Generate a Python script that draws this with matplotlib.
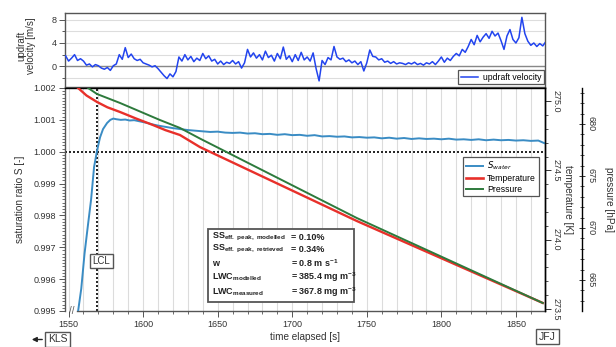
import matplotlib
matplotlib.use('Agg')
import matplotlib.pyplot as plt
from matplotlib.patches import Rectangle
from matplotlib.ticker import MultipleLocator, FormatStrFormatter
from matplotlib.lines import Line2D
import numpy as np

plt.rcParams['font.family'] = ['Liberation Sans', 'DejaVu Sans']
plt.rcParams['mathtext.default'] = 'regular'

# ---------------- data ----------------
vel_start = 1548
vel_step = 2
vel_values = [
    1.8, 0.9, 1.4, 2.0, 1.0, 1.3, 0.9, 0.2, 0.4, -0.1,
    0.3, 0.1, -0.3, -0.5, -0.2, -0.7, 0.1, 0.4, 2.0, 1.2,
    3.2, 1.5, 2.1, 1.3, 1.0, 1.2, 0.6, 0.4, 0.2, -0.1,
    0.1, -0.4, -1.0, -1.6, -2.1, -1.3, -1.8, -0.9, 1.6, 0.9,
    2.0, 1.1, 1.7, 0.8, 1.4, 1.0, 2.2, 1.3, 1.8, 0.9,
    1.2, 0.4, 0.9, 0.3, 0.7, 0.5, 1.0, 0.4, 0.8, -0.3,
    0.6, 2.9, 1.6, 2.3, 1.4, 2.0, 1.1, 2.6, 1.5, 1.9,
    0.9, 2.2, 1.3, 3.3, 1.2, 1.8, 0.8, 2.0, 1.0, 2.4,
    1.1, 1.6, 0.9, 2.3, -0.4, -2.5, 1.0, 0.3, 1.5, 1.1,
    3.4, 1.6, 1.2, 1.4, 0.8, 1.1, 0.6, 0.9, 0.3, 0.8,
    -0.8, 0.6, 2.8, 1.7, 1.6, 1.1, 1.3, 0.7, 0.9, 0.5,
    0.8, 0.4, 0.6, 0.5, 0.3, 0.6, 0.4, 0.7, 0.3, 0.5,
    0.2, 0.6, 0.4, 0.8, 0.3, 0.9, 1.6, 0.7, 1.4, 1.0,
    1.7, 2.2, 1.8, 2.9, 2.4, 3.4, 4.6, 3.7, 5.3, 4.2,
    5.0, 5.6, 4.8, 6.0, 5.2, 5.7, 4.4, 2.9, 5.2, 6.3,
    4.6, 4.0, 4.9, 8.4, 5.6, 4.3, 3.6, 4.0, 3.4, 3.9,
    3.5, 4.2,
]
vel_time = vel_start + vel_step * np.arange(len(vel_values))

s_time = [1556.4, 1558.5, 1560.7, 1563.0, 1565.1, 1567.1, 1569.1, 1571.1,
          1573.1, 1575.8, 1578, 1580, 1582, 1585, 1588, 1591, 1594, 1597,
          1600, 1603, 1606, 1610, 1615, 1620, 1625, 1630, 1635,
          1640, 1645, 1650, 1655, 1660, 1665, 1670, 1675, 1680, 1685,
          1690, 1695, 1700, 1705, 1710, 1715, 1720, 1725, 1730, 1735,
          1740, 1745, 1750, 1755, 1760, 1765, 1770, 1775, 1780, 1785,
          1790, 1795, 1800, 1805, 1810, 1815, 1820, 1825, 1830, 1835,
          1840, 1845, 1850, 1855, 1860, 1865, 1867, 1869]
s_values = [0.99500, 0.99570, 0.99680, 0.99770, 0.99850, 0.99952, 1.00004, 1.00045,
            1.00071, 1.00090, 1.00100, 1.00104, 1.00102, 1.00100, 1.00101, 1.00098, 1.00099, 1.00096,
            1.00093, 1.00090, 1.00086, 1.00082, 1.00078, 1.00074, 1.00071, 1.00068, 1.00066,
            1.00064, 1.00062, 1.00063, 1.00060, 1.00059, 1.00060, 1.00057, 1.00058, 1.00055, 1.00056,
            1.00053, 1.00055, 1.00052, 1.00053, 1.00050, 1.00052, 1.00048, 1.00049, 1.00047, 1.00048,
            1.00045, 1.00046, 1.00044, 1.00045, 1.00042, 1.00044, 1.00041, 1.00043, 1.00040, 1.00042,
            1.00040, 1.00041, 1.00039, 1.00041, 1.00038, 1.00039, 1.00037, 1.00039, 1.00036, 1.00038,
            1.00036, 1.00037, 1.00035, 1.00036, 1.00034, 1.00035, 1.00031, 1.00027]

temp_time = [1556.4, 1562, 1569.1, 1576, 1584.5, 1595, 1606.6, 1615, 1624.7, 1638.1, 1743.3, 1868]
temp_values = [275.094, 275.04, 274.993, 274.955, 274.921, 274.875, 274.827, 274.79, 274.755,
               274.668, 274.135, 273.544]

pres_time = [1563.1, 1569.1, 1584.5, 1611.3, 1624.7, 1638.1, 1743.3, 1868]
pres_values = [683.46, 682.88, 682.02, 680.38, 679.62, 678.6, 670.96, 662.79]

lcl_time = 1569

stats_names = [r'SS$_{eff.\ peak,\ modelled}$', r'SS$_{eff.\ peak,\ retrieved}$', 'w',
               r'LWC$_{modelled}$', r'LWC$_{measured}$']
stats_values = ['= 0.10%', '= 0.34%', r'= 0.8 m s$^{-1}$', r'= 385.4 mg m$^{-3}$',
                r'= 367.8 mg m$^{-3}$']

# ---------------- layout ----------------
W, H = 616, 347
fig = plt.figure(figsize=(W / 100, H / 100), dpi=100)


def fx(px):
    return px / W


def fy(py):
    return 1 - py / H


XMIN, XMAX = 1547.6, 1869.5
TXT = '#333333'
FS = 6.5

ax_top = fig.add_axes([fx(65), fy(86.5), fx(545) - fx(65), fy(13) - fy(86.5)])
ax = fig.add_axes([fx(65), fy(311), fx(545) - fx(65), fy(88) - fy(311)])

# ---- top panel ----
ax_top.plot(vel_time, vel_values, color='#2244ee', lw=1.1, label='updraft velocity', zorder=3)
ax_top.axhline(0, color='#888888', lw=1.0, zorder=2)
ax_top.set_xlim(XMIN, XMAX)
ax_top.set_ylim(-3.46, 9.14)
ax_top.yaxis.set_major_locator(MultipleLocator(4))
ax_top.yaxis.set_minor_locator(MultipleLocator(2))
ax_top.grid(axis='y', which='both', color='#dddddd', lw=0.8, zorder=0)
ax_top.set_xticks([])
ax_top.tick_params(axis='y', which='major', labelsize=FS, labelcolor=TXT, length=4, width=0.7, color='#555555', pad=2)
ax_top.tick_params(axis='y', which='minor', length=2.5, width=0.7, color='#555555')
for sp in ax_top.spines.values():
    sp.set_color('#555555')
    sp.set_linewidth(1.0)
fig.text(fx(26), fy(46), 'updraft\nvelocity [m/s]', rotation=90, ha='center', va='center',
         fontsize=7, color=TXT, multialignment='center', linespacing=1.0)
leg1 = ax_top.legend(loc='upper left', bbox_to_anchor=((458 - 65) / 480, (86.5 - 70) / 73.5),
                     borderaxespad=0, fontsize=6.2, frameon=True, fancybox=False,
                     edgecolor='#555555', framealpha=1, handlelength=2.0, borderpad=0.3,
                     handletextpad=0.6)
leg1.get_frame().set_linewidth(0.9)

# ---- main panel ----
ax.plot(s_time, s_values, color='#3a8cc4', lw=1.4, zorder=3)
ax.axhline(1.0, color='black', lw=1.2, ls=(0, (1.2, 1.2)), zorder=2)
ax.axvline(lcl_time, color='black', lw=1.2, ls=(0, (1.2, 1.2)), zorder=2)
ax.set_xlim(XMIN, XMAX)
ax.set_ylim(0.995, 1.002)
ax.xaxis.set_major_locator(MultipleLocator(50))
ax.xaxis.set_minor_locator(MultipleLocator(10))
ax.yaxis.set_major_locator(MultipleLocator(0.001))
ax.yaxis.set_minor_locator(MultipleLocator(0.0001))
ax.yaxis.set_major_formatter(FormatStrFormatter('%.3f'))
ax.grid(axis='x', which='both', color='#dcdcdc', lw=0.8, zorder=0)
ax.tick_params(axis='both', which='major', labelsize=FS, labelcolor=TXT, length=4.5, width=0.7,
               color='#555555', pad=2)
ax.tick_params(axis='both', which='minor', length=2.5, width=0.6, color='#555555')
ax.spines['bottom'].set_bounds(1555.5, XMAX)
for sp in ax.spines.values():
    sp.set_linewidth(1.0)
ax.spines['left'].set_color('#555555')
ax.spines['bottom'].set_color('#555555')
ax.set_xlabel('time elapsed [s]', fontsize=7.2, color=TXT, labelpad=2)
ax.set_ylabel('saturation ratio S [-]', fontsize=7.2, color=TXT, labelpad=6)
fig.text(fx(72), fy(311), '//', fontsize=7, ha='center', va='center', color='#555555')

# temperature axis
ax_t = ax.twinx()
ax_t.plot(temp_time, temp_values, color='#e8302a', lw=1.7, zorder=3)
ax_t.set_ylim(273.486, 275.094)
ax_t.yaxis.set_major_locator(MultipleLocator(0.5))
ax_t.yaxis.set_minor_locator(MultipleLocator(0.1))
ax_t.yaxis.set_major_formatter(FormatStrFormatter('%.1f'))
ax_t.tick_params(axis='y', which='major', labelsize=FS, labelcolor=TXT, length=4, width=0.7,
                 color='#333333', pad=1, labelrotation=-90)
ax_t.tick_params(axis='y', which='minor', length=2.5, width=0.6, color='#333333')
for lab in ax_t.get_yticklabels():
    lab.set_va('center')
for sp in ('left', 'top', 'bottom'):
    ax_t.spines[sp].set_visible(False)
ax_t.spines['right'].set_linewidth(1.0)
fig.text(fx(568), fy(199.5), 'temperature [K]', fontsize=7.2, color=TXT, rotation=-90,
         ha='center', va='center')

# pressure axis
ax_p = ax.twinx()
ax_p.plot(pres_time, pres_values, color='#2d7a3c', lw=1.4, zorder=3)
ax_p.set_ylim(662.02, 683.46)
ax_p.spines['right'].set_position(('outward', 37 * 0.72))
ax_p.yaxis.set_major_locator(MultipleLocator(5))
ax_p.yaxis.set_minor_locator(MultipleLocator(1))
ax_p.tick_params(axis='y', which='major', labelsize=FS, labelcolor=TXT, length=5, width=0.7,
                 color='#333333', pad=1, labelrotation=-90, direction='inout')
ax_p.tick_params(axis='y', which='minor', length=3, width=0.6, color='#333333', direction='inout')
for lab in ax_p.get_yticklabels():
    lab.set_va('center')
for sp in ('left', 'top', 'bottom'):
    ax_p.spines[sp].set_visible(False)
ax_p.spines['right'].set_linewidth(1.0)
fig.text(fx(609), fy(199.5), 'pressure [hPa]', fontsize=7.2, color=TXT, rotation=-90,
         ha='center', va='center')

handles = [Line2D([], [], color='#3a8cc4', lw=1.4),
           Line2D([], [], color='#e8302a', lw=1.9),
           Line2D([], [], color='#2d7a3c', lw=1.4)]
labels = [r'$\it{S}_{water}$', 'Temperature', 'Pressure']
leg2 = ax_p.legend(handles, labels, loc='upper left',
                   bbox_to_anchor=((463 - 65) / 480, (311 - 157) / 223),
                   borderaxespad=0, fontsize=6.2, frameon=True, fancybox=False,
                   edgecolor='#555555', framealpha=1, handlelength=2.0, borderpad=0.3,
                   labelspacing=0.2, handletextpad=0.5)
leg2.get_frame().set_linewidth(0.9)

# stats box
fig.patches.append(Rectangle((fx(208), fy(302)), fx(354) - fx(208), fy(229) - fy(302),
                             transform=fig.transFigure, facecolor='white', edgecolor='#555555',
                             lw=1.3, zorder=5))
row_y = [237, 249, 263, 277.5, 292]
for name, val, yy in zip(stats_names, stats_values, row_y):
    fig.text(fx(212), fy(yy), name, fontsize=6.5, fontweight='bold', color='#222222',
             ha='left', va='center', zorder=6)
    fig.text(fx(291), fy(yy), val, fontsize=6.5, fontweight='bold', color='#222222',
             ha='left', va='center', zorder=6)

# LCL / KLS / JFJ labels
box = dict(boxstyle='square,pad=0.25', facecolor='white', edgecolor='#555555', lw=1.0)
fig.text(fx(101.5), fy(261), 'LCL', fontsize=7, color=TXT, ha='center', va='center', bbox=box, zorder=6)
fig.text(fx(57.5), fy(339.5), 'KLS', fontsize=7.5, color=TXT, ha='center', va='center', bbox=box, zorder=6)
fig.text(fx(547.5), fy(336.5), 'JFJ', fontsize=7.5, color=TXT, ha='center', va='center', bbox=box, zorder=6)
fig.add_artist(matplotlib.patches.FancyArrowPatch((fx(45), fy(339.5)), (fx(29), fy(339.5)),
                                                  transform=fig.transFigure, arrowstyle='-|>',
                                                  mutation_scale=7, color='#222222', lw=1.0))

fig.savefig('out.png', dpi=100)
